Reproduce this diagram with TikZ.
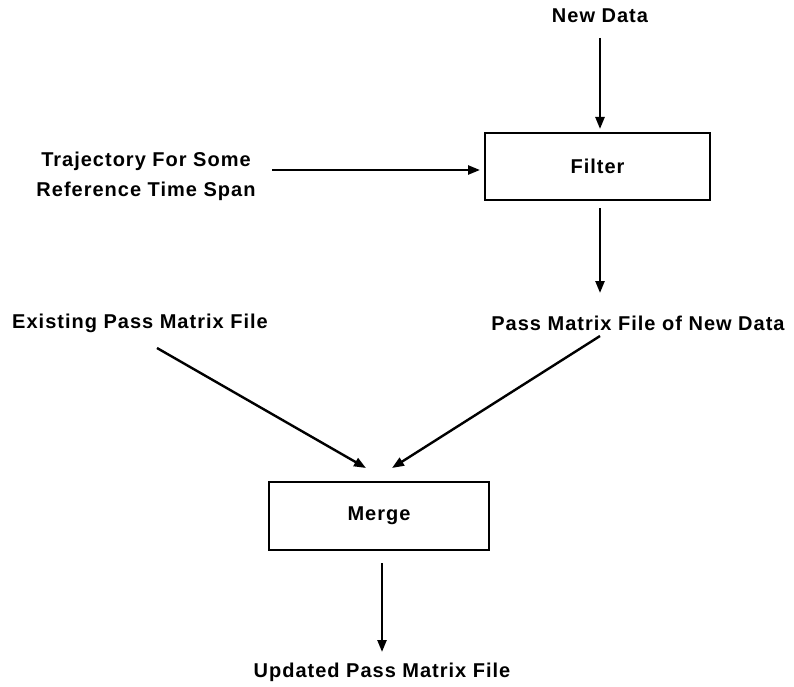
\documentclass[tikz,border=0pt]{standalone}
\usepackage{fontspec}
\setmainfont{Liberation Sans}[LetterSpace=5]
\usetikzlibrary{arrows.meta}
\begin{document}
\begin{tikzpicture}[x=1pt,y=-1pt,
  lbl/.style={font=\bfseries\fontsize{20}{30}\selectfont, inner sep=0pt, align=center},
  box/.style={draw, line width=1.4pt, inner sep=0pt},
  arr/.style={line width=2.4pt, -{Triangle[length=12pt,width=9pt]}}]
\useasboundingbox (0,0) rectangle (794,687);
\node[box, minimum width=225pt, minimum height=67pt] (filter) at (597.5,166.5) {};
\node[lbl] at (filter.center) {Filter};
\node[box, minimum width=220pt, minimum height=68pt] (merge) at (379,516) {};
\node[lbl] at (merge.center) {Merge};
\node[lbl] (newdata) at (600,16) {New Data};
\node[lbl] (traj) at (146,176) {Trajectory For Some\\Reference Time Span};
\node[lbl] (exist) at (140,323) {Existing Pass Matrix File};
\node[lbl] (passnew) at (638,323) {Pass Matrix File of New Data};
\node[lbl] (updated) at (382,672) {Updated Pass Matrix File};
\coordinate (a1) at (600,38);
\coordinate (a2) at (600,129);
\coordinate (b1) at (600,208);
\coordinate (b2) at (600,293);
\coordinate (c1) at (272,170);
\coordinate (c2) at (480,170);
\coordinate (d1) at (157,348);
\coordinate (d2) at (366,468);
\coordinate (e1) at (600,336);
\coordinate (e2) at (392,468);
\coordinate (f1) at (382,563);
\coordinate (f2) at (382,652);
\draw[arr] (a1) -- (a2);
\draw[arr] (b1) -- (b2);
\draw[arr] (c1) -- (c2);
\draw[arr] (d1) -- (d2);
\draw[arr] (e1) -- (e2);
\draw[arr] (f1) -- (f2);
\end{tikzpicture}
\end{document}
